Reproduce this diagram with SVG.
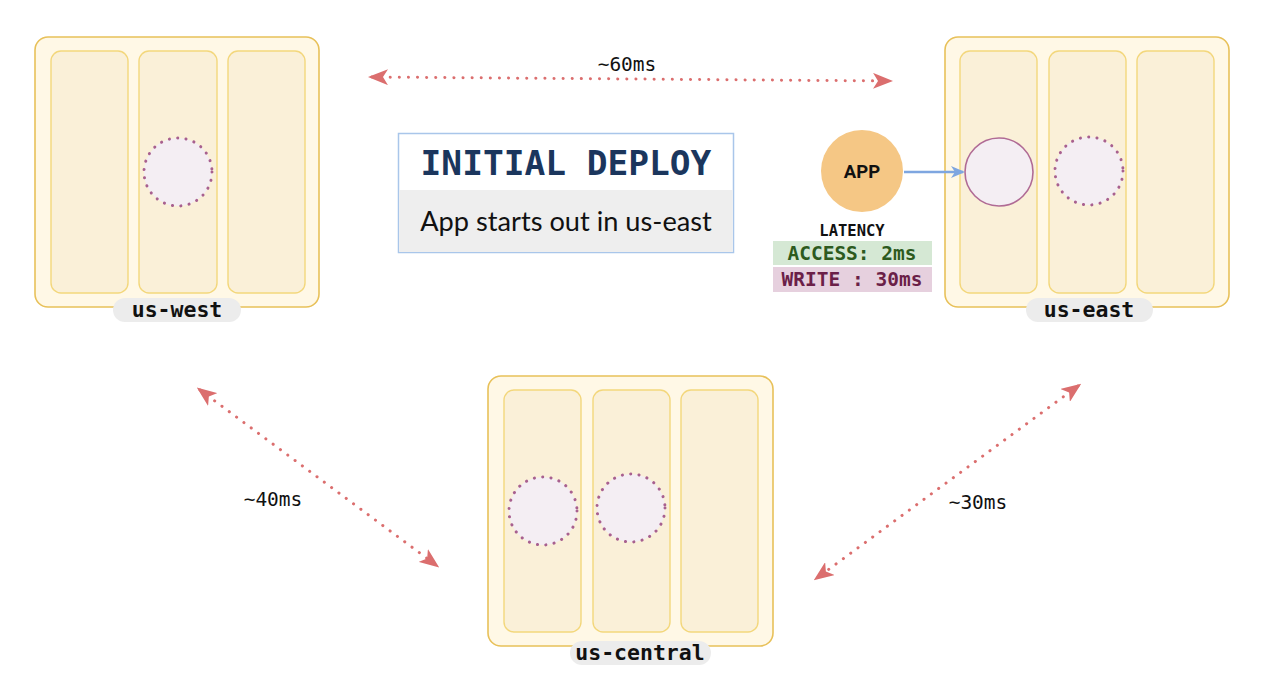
<svg xmlns="http://www.w3.org/2000/svg" width="1280" height="694" viewBox="0 0 1280 694">
<style>
.outer{fill:#fff8e6;stroke:#e8c15a;stroke-width:1.6}
.col{fill:#faf0d8;stroke:#f3d77c;stroke-width:1.4}
.dot{fill:#f4eef3;stroke:#a8608f;stroke-width:3;stroke-dasharray:0.1 8.3;stroke-linecap:round}
.solid{fill:#f4eef3;stroke:#b06b95;stroke-width:1.6}
.pill{fill:#ececec}
.pt{font-family:"DejaVu Sans Mono","Liberation Mono",monospace;font-weight:bold;font-size:21.5px;fill:#111;text-anchor:middle}
.lat{stroke:#db6e6e;stroke-width:3;stroke-dasharray:0.1 9;stroke-linecap:round;fill:none}
.lt{font-family:"DejaVu Sans Mono","Liberation Mono",monospace;font-size:19.5px;fill:#111;text-anchor:middle}
</style>
<defs>
<marker id="ah" viewBox="0 0 20 16" refX="16" refY="8" markerWidth="20" markerHeight="16" markerUnits="userSpaceOnUse" orient="auto-start-reverse">
<path d="M0,0 L20,8 L0,16 L5,8 Z" fill="#db6e6e"/>
</marker>
<marker id="bh" viewBox="0 0 14 12" refX="12" refY="6" markerWidth="14" markerHeight="12" markerUnits="userSpaceOnUse" orient="auto">
<path d="M0,0 L14,6 L0,12 L4,6 Z" fill="#7ea6e0"/>
</marker>
</defs>
<rect width="1280" height="694" fill="#fff"/>

<g id="us-west">
<rect class="outer" x="35" y="37" width="284" height="270" rx="13"/>
<rect class="col" x="51" y="51" width="77" height="242" rx="10"/>
<rect class="col" x="139" y="51" width="78" height="242" rx="10"/>
<rect class="col" x="228" y="51" width="77" height="242" rx="10"/>
<circle class="dot" cx="178" cy="172" r="34"/>
<rect class="pill" x="113" y="298" width="128" height="24" rx="12"/>
<text class="pt" x="177" y="317">us-west</text>
</g>

<g id="us-east">
<rect class="outer" x="945" y="37" width="284" height="270" rx="13"/>
<rect class="col" x="960" y="51" width="77" height="242" rx="10"/>
<rect class="col" x="1049" y="51" width="77" height="242" rx="10"/>
<rect class="col" x="1137" y="51" width="77" height="242" rx="10"/>
<circle class="solid" cx="999" cy="172" r="34"/>
<circle class="dot" cx="1089" cy="171" r="34"/>
<rect class="pill" x="1026" y="298" width="127" height="24" rx="12"/>
<text class="pt" x="1089" y="317">us-east</text>
</g>

<g id="us-central">
<rect class="outer" x="488" y="376" width="285" height="270" rx="13"/>
<rect class="col" x="504" y="390" width="77" height="242" rx="10"/>
<rect class="col" x="593" y="390" width="77" height="242" rx="10"/>
<rect class="col" x="681" y="390" width="77" height="242" rx="10"/>
<circle class="dot" cx="543" cy="511" r="34"/>
<circle class="dot" cx="631" cy="508" r="34"/>
<rect class="pill" x="570" y="641" width="141" height="24" rx="12"/>
<text class="pt" x="640" y="660">us-central</text>
</g>

<g id="title">
<rect x="398.5" y="133.5" width="335" height="119" fill="#fff" stroke="#a9c6ea" stroke-width="1.5"/>
<rect x="399.3" y="190" width="333.4" height="62" fill="#eeeeee"/>
<text x="566" y="175" font-family="DejaVu Sans Mono,Liberation Mono,monospace" font-weight="bold" font-size="34.5" fill="#1b365d" text-anchor="middle">INITIAL DEPLOY</text>
<text x="566" y="231" font-family="Lato,Liberation Sans,sans-serif" font-size="27.2" fill="#111" text-anchor="middle">App starts out in us-east</text>
</g>

<g id="app">
<circle cx="862" cy="171" r="41" fill="#f5c785"/>
<text x="862" y="178" font-family="Roboto,Liberation Sans,sans-serif" font-weight="bold" font-size="18.5" fill="#111" text-anchor="middle">APP</text>
</g>

<g id="latency">
<text x="852" y="236" font-family="DejaVu Sans Mono,Liberation Mono,monospace" font-weight="bold" font-size="15.5" fill="#111" text-anchor="middle">LATENCY</text>
<rect x="773" y="241" width="159" height="24" fill="#d5e8d4"/>
<text x="852" y="260" font-family="DejaVu Sans Mono,Liberation Mono,monospace" font-weight="bold" font-size="19.5" fill="#2d5a1e" text-anchor="middle">ACCESS: 2ms</text>
<rect x="773" y="267" width="159" height="25" fill="#e6d0de"/>
<text x="852" y="286" font-family="DejaVu Sans Mono,Liberation Mono,monospace" font-weight="bold" font-size="19.5" fill="#6b1f48" text-anchor="middle">WRITE : 30ms</text>
</g>

<g id="connectors">
<line x1="904" y1="172" x2="963" y2="172" stroke="#7ea6e0" stroke-width="2.5" marker-end="url(#bh)"/>
<line class="lat" x1="372" y1="77" x2="889" y2="81" marker-start="url(#ah)" marker-end="url(#ah)"/>
<line class="lat" x1="200" y1="390" x2="436" y2="565" marker-start="url(#ah)" marker-end="url(#ah)"/>
<line class="lat" x1="1078" y1="386" x2="817" y2="578" marker-start="url(#ah)" marker-end="url(#ah)"/>
<text class="lt" x="627" y="71">~60ms</text>
<text class="lt" x="273" y="506">~40ms</text>
<text class="lt" x="978" y="509">~30ms</text>
</g>
</svg>
